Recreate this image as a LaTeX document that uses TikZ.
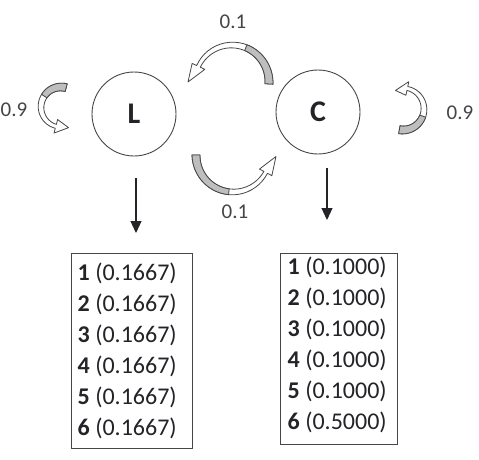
\documentclass[tikz,border=0pt]{standalone}
\usepackage{fontspec}
\setmainfont{Carlito}
\usetikzlibrary{arrows.meta}
\definecolor{ink}{RGB}{35, 35, 40}
\definecolor{rim}{RGB}{70, 70, 70}
\definecolor{shade}{RGB}{190, 190, 190}

% #1,#2 centre, #3 radius, #4 tail angle, #5 end of band,
% #6 tip angle, #7 tip radius, #8 shaded part of the band
\newcommand{\bentarrow}[8]{%
  \filldraw[arrowbody]
    plot[domain=0:1, samples=24]
      ({#1+(#3+4-2*\x)*cos(#4+(#5-(#4))*\x)}, {#2+(#3+4-2*\x)*sin(#4+(#5-(#4))*\x)})
    -- ({#1+(#3+7)*cos(#5)}, {#2+(#3+7)*sin(#5)})
    -- ({#1+#7*cos(#6)}, {#2+#7*sin(#6)})
    -- ({#1+(#3-7)*cos(#5)}, {#2+(#3-7)*sin(#5)})
    -- plot[domain=0:1, samples=24]
      ({#1+(#3-2-2*\x)*cos(#5+((#4)-#5)*\x)}, {#2+(#3-2-2*\x)*sin(#5+((#4)-#5)*\x)})
    -- cycle;
  \filldraw[arrowback]
    plot[domain=0:#8, samples=16]
      ({#1+(#3+4-2*\x)*cos(#4+(#5-(#4))*\x)}, {#2+(#3+4-2*\x)*sin(#4+(#5-(#4))*\x)})
    -- plot[domain=0:1, samples=16]
      ({#1+(#3-4+2*#8*(1-\x))*cos(#4+(#5-(#4))*#8*(1-\x))},
       {#2+(#3-4+2*#8*(1-\x))*sin(#4+(#5-(#4))*#8*(1-\x))})
    -- cycle;
}

\begin{document}
\begin{tikzpicture}[x=1pt, y=1pt,
    state/.style={circle, draw=rim, line width=0.9pt, minimum size=84pt,
      font=\fontsize{30}{30}\selectfont\bfseries, text=ink},
    prob/.style={font=\fontsize{21}{21}\selectfont, text=ink!85},
    arrowbody/.style={draw=rim, fill=white, line width=0.8pt, line join=round},
    arrowback/.style={draw=rim, fill=shade, line width=0.8pt, line join=round},
    emit/.style={-{Triangle[length=12pt, width=11pt]}, line width=1.2pt, ink},
    tallybox/.style={draw=rim, line width=1pt, inner sep=0pt},
    rows/.style={align=left, font=\fontsize{24}{31}\selectfont, text=ink,
      inner sep=0pt, anchor=north west}]

  \useasboundingbox (0, 0) rectangle (479, 459);

  % the two states
  \node[state] (L) at (134, 345) {L};
  \node[state] (C) at (318, 347) {C};

  % transitions
  \bentarrow{232}{377}{37}{-3}{155}{180}{44}{0.45}
  \bentarrow{233}{304}{37}{180}{332}{358}{43}{0.55}
  \bentarrow{61}{352}{20}{75}{255}{290}{22}{0.4}
  \bentarrow{403}{350}{21}{-100}{78}{112}{20}{0.45}

  \node[prob] (pLC) at (233, 437) {0.1};
  \node[prob] (pCL) at (235, 247) {0.1};
  \node[prob, anchor=west, inner sep=0.5pt] (pLL) at (0, 349) {0.9};
  \node[prob] (pCC) at (460, 346) {0.9};

  % emission tables
  \node[tallybox, minimum width=121pt, minimum height=195pt] (boxL) at (131.5, 108.5) {};
  \node[tallybox, minimum width=117pt, minimum height=191pt] (boxR) at (338.5, 110.5) {};

  \node[rows] (rowsL) at ([xshift=7pt, yshift=-10.5pt]boxL.north west)
    {\textbf{1} (0.1667)\\ \textbf{2} (0.1667)\\ \textbf{3} (0.1667)\\
     \textbf{4} (0.1667)\\ \textbf{5} (0.1667)\\ \textbf{6} (0.1667)};
  \node[rows] (rowsR) at ([xshift=8pt, yshift=-4.5pt]boxR.north west)
    {\textbf{1} (0.1000)\\ \textbf{2} (0.1000)\\ \textbf{3} (0.1000)\\
     \textbf{4} (0.1000)\\ \textbf{5} (0.1000)\\ \textbf{6} (0.5000)};

  \coordinate (Lout) at (136, 281);
  \coordinate (Lin) at (136, 226);
  \coordinate (Cout) at (327, 291);
  \coordinate (Cin) at (327, 239);
  \draw[emit] (Lout) -- (Lin);
  \draw[emit] (Cout) -- (Cin);

\end{tikzpicture}
\end{document}
